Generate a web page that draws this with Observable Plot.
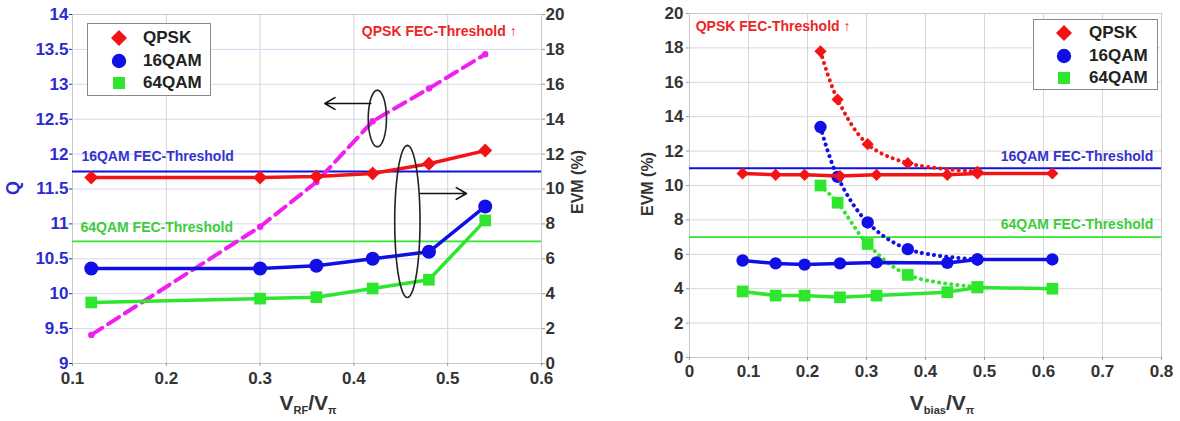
<!DOCTYPE html>
<html><head><meta charset="utf-8">
<script src="https://cdn.jsdelivr.net/npm/d3@7"></script>
<script src="https://cdn.jsdelivr.net/npm/@observablehq/plot@0.6"></script>
<style>
body{margin:0;background:#fff;font-family:Arial,"Liberation Sans",sans-serif;}
#wrap{position:relative;width:1180px;height:421px;overflow:hidden;background:#fff;}
#wrap svg.chart{position:absolute;top:0;}
.legend{position:absolute;background:#fff;border:1px solid #8a8a8a;box-sizing:border-box;}
.legend .it{position:absolute;font-weight:bold;font-size:17px;color:#222;line-height:20px;}
.legend svg{position:absolute;}
.lab{position:absolute;font-weight:bold;white-space:nowrap;transform:translate(-50%,-50%);}
.rot{transform:translate(-50%,-50%) rotate(-90deg);}
sub{font-size:11px;vertical-align:-4px;}
</style></head><body><div id="wrap"></div>
<script>
// ---------- Left chart data (x = V_RF/V_pi) ----------
const rfX = [0.12, 0.3, 0.36, 0.42, 0.48, 0.54];
const rfQpskEvm = [10.66, 10.66, 10.72, 10.89, 11.45, 12.2];
const rf16Evm = [5.44, 5.44, 5.6, 6.0, 6.4, 9.0];
const rf64Evm = [3.5, 3.72, 3.8, 4.3, 4.8, 8.2];
const rfQ = [9.41, 10.96, 11.6, 12.47, 12.94, 13.43];
const rfXTicks = [0.1, 0.2, 0.3, 0.4, 0.5, 0.6];
const evmTicks = [0, 2, 4, 6, 8, 10, 12, 14, 16, 18, 20];
const qTickLabels = ["9", "9.5", "10", "10.5", "11", "11.5", "12", "12.5", "13", "13.5", "14"];

// ---------- Right chart data (x = V_bias/V_pi) ----------
const biasXSolid = [0.09, 0.146, 0.195, 0.255, 0.317, 0.437, 0.488, 0.615];
const biasQpskSolid = [10.7, 10.62, 10.62, 10.55, 10.62, 10.62, 10.7, 10.7];
const bias16Solid = [5.64, 5.47, 5.4, 5.47, 5.53, 5.5, 5.7, 5.7];
const bias64Solid = [3.84, 3.6, 3.6, 3.5, 3.6, 3.8, 4.07, 4.0];
const biasXDotted = [0.222, 0.251, 0.302, 0.37, 0.488];
const biasQpskDotted = [17.8, 15.0, 12.4, 11.3, 10.8];
const bias16Dotted = [13.4, 10.5, 7.85, 6.3, 5.7];
const bias64Dotted = [10.0, 9.0, 6.6, 4.8, 4.1];
const biasXTicks = [0, 0.1, 0.2, 0.3, 0.4, 0.5, 0.6, 0.7, 0.8];

// thresholds (EVM %)
const fec16 = 11;
const fec64 = 7;
const seriesNames = ["QPSK", "16QAM", "64QAM"];
const thresholdNames = ["QPSK FEC-Threshold \u2191", "16QAM FEC-Threshold", "64QAM FEC-Threshold"];

// annotations on the left chart (data units: x, EVM)
const ellipsesLeft = [
  {cx: 0.425, cy: 14.04, rx: 0.0097, ry: 1.62},
  {cx: 0.457, cy: 8.14, rx: 0.0135, ry: 4.36}
];
const arrowsLeft = [
  {x1: 0.418, y1: 14.9, x2: 0.369, y2: 14.9},
  {x1: 0.471, y1: 9.74, x2: 0.52, y2: 9.74}
];

// colours
const RED = "#f21414", BLUE = "#1010e6", GREEN = "#2ee62e", MAG = "#f01ff0";
const LBLUE = "#3434cc", LGREEN = "#3ccc3c", LRED = "#ee2424";

const rows = (xs, ys) => xs.map((x, i) => ({x, y: ys[i]}));
const qToEvm = q => (q - 9) * 4;
const ellipsePts = e => d3.range(0, 73).map(i => {
  const t = i / 72 * 2 * Math.PI;
  return {x: e.cx + e.rx * Math.cos(t), y: e.cy + e.ry * Math.sin(t)};
});
const fmt1 = d => String(+d.toFixed(1));
const baseStyle = {fontFamily: "Arial, 'Liberation Sans', sans-serif", fontSize: "17px", fontWeight: "bold", background: "#fff", color: "#333"};
const dotted = {strokeWidth: 4, strokeDasharray: "0.1,6", strokeLinecap: "round", curve: "catmull-rom"};
const thrText = {textAnchor: "start", fontSize: 14, fontWeight: "bold"};

// ---------------- LEFT CHART ----------------
const left = Plot.plot({
  width: 600, height: 421,
  marginLeft: 72, marginRight: 59, marginTop: 14, marginBottom: 58,
  x: {domain: [0.1, 0.6]},
  y: {domain: [0, 20]},
  style: baseStyle,
  marks: [
    Plot.gridY(evmTicks, {stroke: "#d6d6f4", strokeOpacity: 1}),
    Plot.gridX(rfXTicks, {stroke: "#d4d4d4", strokeOpacity: 1}),
    Plot.frame({stroke: "#c8c8c8"}),
    Plot.ruleY([fec16], {stroke: BLUE, strokeWidth: 2}),
    Plot.ruleY([fec64], {stroke: GREEN, strokeWidth: 1.6}),
    Plot.line(rows(rfX, rfQ.map(qToEvm)), {x: "x", y: "y", stroke: MAG, strokeWidth: 4, strokeDasharray: "13,7"}),
    Plot.dot(rows(rfX, rfQ.map(qToEvm)), {x: "x", y: "y", fill: MAG, r: 3.2}),
    Plot.line(rows(rfX, rf64Evm), {x: "x", y: "y", stroke: GREEN, strokeWidth: 3.5}),
    Plot.dot(rows(rfX, rf64Evm), {x: "x", y: "y", symbol: "square", fill: GREEN, r: 6.6}),
    Plot.line(rows(rfX, rf16Evm), {x: "x", y: "y", stroke: BLUE, strokeWidth: 3.5}),
    Plot.dot(rows(rfX, rf16Evm), {x: "x", y: "y", fill: BLUE, r: 7}),
    Plot.line(rows(rfX, rfQpskEvm), {x: "x", y: "y", stroke: RED, strokeWidth: 3.5}),
    Plot.dot(rows(rfX, rfQpskEvm), {x: "x", y: "y", symbol: "diamond2", fill: RED, r: 6.3}),
    ...ellipsesLeft.map(e => Plot.line(ellipsePts(e), {x: "x", y: "y", stroke: "#222", strokeWidth: 1.6})),
    Plot.arrow(arrowsLeft, {x1: "x1", y1: "y1", x2: "x2", y2: "y2", stroke: "#111", strokeWidth: 1.6, headLength: 11}),
    Plot.text([thresholdNames[1]], {x: 0.1095, y: 11.86, text: d => d, fill: LBLUE, ...thrText}),
    Plot.text([thresholdNames[2]], {x: 0.1085, y: 7.8, text: d => d, fill: LGREEN, ...thrText}),
    Plot.text([thresholdNames[0]], {x: 0.4085, y: 19.0, text: d => d, fill: LRED, ...thrText}),
    Plot.axisX({ticks: rfXTicks, tickFormat: fmt1, tickSize: 3, tickPadding: 5, stroke: "#999", fill: "#333", label: null}),
    Plot.axisY({anchor: "left", ticks: evmTicks, tickFormat: d => qTickLabels[evmTicks.indexOf(d)], tickSize: 3, tickPadding: 1, color: "#2b2bd0", label: null}),
    Plot.axisY({anchor: "right", ticks: evmTicks, tickSize: 3, tickPadding: 1, stroke: "#999", fill: "#333", label: null})
  ]
});
left.classList.add("chart");
left.style.left = "0px";

// ---------------- RIGHT CHART ----------------
const right = Plot.plot({
  width: 580, height: 421,
  marginLeft: 89, marginRight: 19, marginTop: 13, marginBottom: 64,
  x: {domain: [0, 0.8]},
  y: {domain: [0, 20]},
  style: baseStyle,
  marks: [
    Plot.gridY(evmTicks, {stroke: "#d8d8d8", strokeOpacity: 1}),
    Plot.gridX(biasXTicks, {stroke: "#d8d8d8", strokeOpacity: 1}),
    Plot.frame({stroke: "#c8c8c8"}),
    Plot.ruleY([fec16], {stroke: BLUE, strokeWidth: 2}),
    Plot.ruleY([fec64], {stroke: GREEN, strokeWidth: 1.8}),
    Plot.line(rows(biasXDotted, bias64Dotted), {x: "x", y: "y", stroke: GREEN, ...dotted}),
    Plot.line(rows(biasXSolid, bias64Solid), {x: "x", y: "y", stroke: GREEN, strokeWidth: 3.5}),
    Plot.dot(rows(biasXDotted, bias64Dotted), {x: "x", y: "y", symbol: "square", fill: GREEN, r: 6.6}),
    Plot.dot(rows(biasXSolid, bias64Solid), {x: "x", y: "y", symbol: "square", fill: GREEN, r: 6.6}),
    Plot.line(rows(biasXDotted, bias16Dotted), {x: "x", y: "y", stroke: BLUE, ...dotted}),
    Plot.line(rows(biasXSolid, bias16Solid), {x: "x", y: "y", stroke: BLUE, strokeWidth: 3.5}),
    Plot.dot(rows(biasXDotted, bias16Dotted), {x: "x", y: "y", fill: BLUE, r: 6.2}),
    Plot.dot(rows(biasXSolid, bias16Solid), {x: "x", y: "y", fill: BLUE, r: 6.2}),
    Plot.line(rows(biasXDotted, biasQpskDotted), {x: "x", y: "y", stroke: RED, ...dotted}),
    Plot.line(rows(biasXSolid, biasQpskSolid), {x: "x", y: "y", stroke: RED, strokeWidth: 3.5}),
    Plot.dot(rows(biasXDotted, biasQpskDotted), {x: "x", y: "y", symbol: "diamond2", fill: RED, r: 5.5}),
    Plot.dot(rows(biasXSolid, biasQpskSolid), {x: "x", y: "y", symbol: "diamond2", fill: RED, r: 5.5}),
    Plot.text([thresholdNames[0]], {x: 0.0105, y: 19.24, text: d => d, fill: LRED, ...thrText}),
    Plot.text([thresholdNames[1]], {x: 0.786, y: 11.69, text: d => d, fill: LBLUE, ...thrText, textAnchor: "end"}),
    Plot.text([thresholdNames[2]], {x: 0.786, y: 7.73, text: d => d, fill: LGREEN, ...thrText, textAnchor: "end"}),
    Plot.axisX({ticks: biasXTicks, tickFormat: fmt1, tickSize: 3, tickPadding: 4, stroke: "#999", fill: "#333", label: null}),
    Plot.axisY({anchor: "left", ticks: evmTicks, tickSize: 3, tickPadding: 3, stroke: "#999", fill: "#333", label: null})
  ]
});
right.classList.add("chart");
right.style.left = "600px";

const wrap = document.getElementById("wrap");
wrap.appendChild(left);
wrap.appendChild(right);

// ---------------- legends & axis titles (HTML) ----------------
function marker(kind, color) {
  const ns = "http://www.w3.org/2000/svg";
  const s = document.createElementNS(ns, "svg");
  s.setAttribute("width", 18); s.setAttribute("height", 18);
  let el;
  if (kind === "diamond") { el = document.createElementNS(ns, "polygon"); el.setAttribute("points", "9,1 17,9 9,17 1,9"); }
  else if (kind === "circle") { el = document.createElementNS(ns, "circle"); el.setAttribute("cx", 9); el.setAttribute("cy", 9); el.setAttribute("r", 7.2); }
  else { el = document.createElementNS(ns, "rect"); el.setAttribute("x", 3); el.setAttribute("y", 3); el.setAttribute("width", 12); el.setAttribute("height", 12); }
  el.setAttribute("fill", color);
  s.appendChild(el);
  return s;
}
function legend(l, t, w, h, mx, tx, ys) {
  const box = document.createElement("div");
  box.className = "legend";
  Object.assign(box.style, {left: l + "px", top: t + "px", width: w + "px", height: h + "px"});
  const kinds = ["diamond", "circle", "square"], cols = [RED, BLUE, GREEN];
  seriesNames.forEach((name, i) => {
    const m = marker(kinds[i], cols[i]);
    Object.assign(m.style, {left: (mx - 9) + "px", top: (ys[i] - 9) + "px"});
    box.appendChild(m);
    const t2 = document.createElement("div");
    t2.className = "it"; t2.textContent = name;
    Object.assign(t2.style, {left: tx + "px", top: (ys[i] - 10) + "px"});
    box.appendChild(t2);
  });
  wrap.appendChild(box);
}
legend(87, 23, 124, 73, 31, 55, [14, 37, 59]);
legend(1033, 19, 125, 71, 30, 55, [13, 36, 58]);

function label(html, x, y, size, color, rot) {
  const d = document.createElement("div");
  d.className = "lab" + (rot ? " rot" : "");
  d.innerHTML = html;
  Object.assign(d.style, {left: x + "px", top: y + "px", fontSize: size + "px", color});
  wrap.appendChild(d);
}
label("Q", 13, 188, 18, "#2b2bd0", true);
label("EVM (%)", 578, 182, 16, "#333", true);
label("EVM (%)", 648, 184, 16, "#333", true);
label("V<sub>RF</sub>/V<sub>\u03c0</sub>", 308, 403, 21, "#333", false);
label("V<sub>bias</sub>/V<sub>\u03c0</sub>", 942, 403, 21, "#333", false);
</script></body></html>
